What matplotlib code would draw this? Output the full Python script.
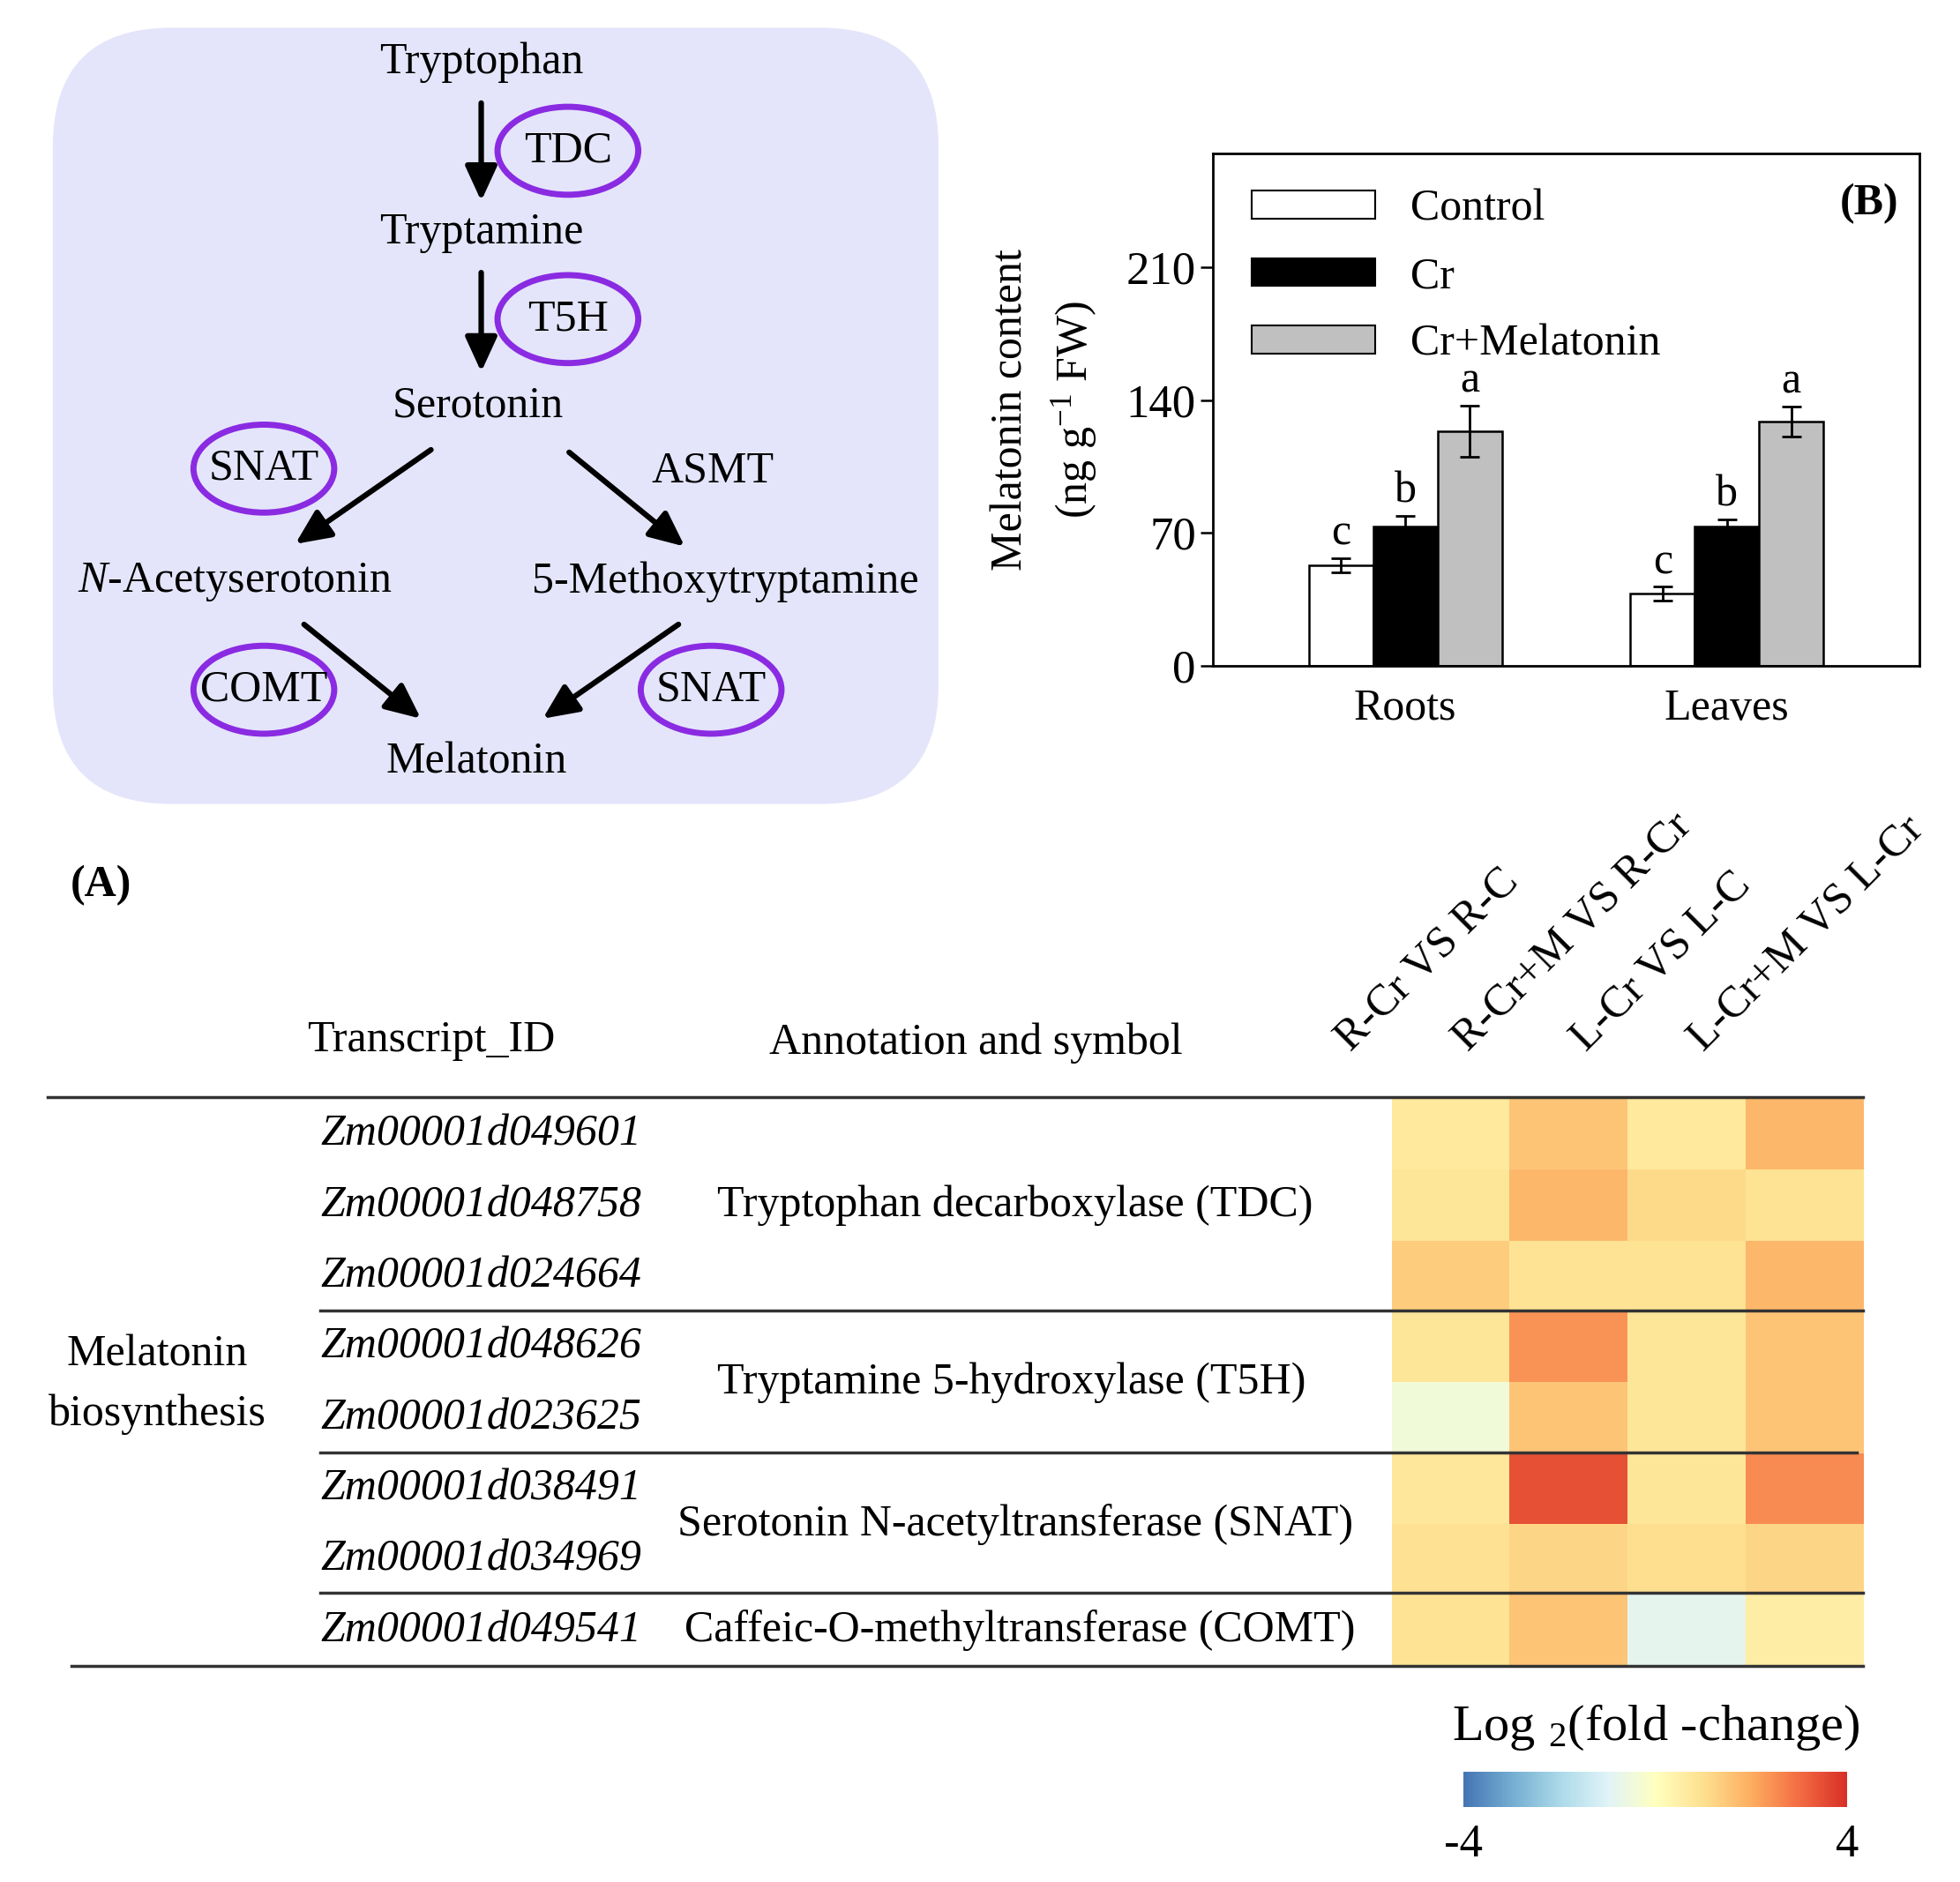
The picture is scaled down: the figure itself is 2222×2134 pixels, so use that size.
import matplotlib
matplotlib.use("Agg")
import matplotlib.pyplot as plt
import numpy as np
from matplotlib.patches import Ellipse, FancyBboxPatch, Patch
from matplotlib.colors import LinearSegmentedColormap, Normalize
from matplotlib.cm import ScalarMappable

plt.rcParams['font.family'] = ['Liberation Serif', 'DejaVu Serif']
plt.rcParams['mathtext.fontset'] = 'custom'
plt.rcParams['mathtext.rm'] = 'Liberation Serif'
plt.rcParams['mathtext.it'] = 'Liberation Serif:italic'
plt.rcParams['mathtext.bf'] = 'Liberation Serif:bold'

# bar chart data (B)
tissues = ['Roots', 'Leaves']
treatments = ['Control', 'Cr', 'Cr+Melatonin']
control = [53, 38]
control_err = [3.8, 3.6]
cr = [73.5, 73.5]
cr_err = [5.6, 3.5]
cr_mel = [123.5, 128.7]
cr_mel_err = [13.5, 8]
letters_control = ['c', 'c']
letters_cr = ['b', 'b']
letters_crmel = ['a', 'a']

# heatmap data (A)
comparisons = ['R-Cr VS R-C', 'R-Cr+M VS R-Cr', 'L-Cr VS L-C', 'L-Cr+M VS L-Cr']
transcripts = ['Zm00001d049601', 'Zm00001d048758', 'Zm00001d024664',
               'Zm00001d048626', 'Zm00001d023625', 'Zm00001d038491',
               'Zm00001d034969', 'Zm00001d049541']
annotations = ['Tryptophan decarboxylase (TDC)', 'Tryptamine 5-hydroxylase (T5H)',
               'Serotonin N-acetyltransferase (SNAT)', 'Caffeic-O-methyltransferase (COMT)']
group_sizes = [3, 2, 2, 1]
log2fc = [
    [0.7, 1.55, 0.7, 1.8],
    [0.8, 1.8, 1.1, 0.9],
    [1.4, 0.9, 0.9, 1.8],
    [0.8, 2.4, 0.8, 1.55],
    [-0.45, 1.55, 0.8, 1.55],
    [0.75, 3.45, 0.8, 2.5],
    [0.95, 1.2, 1.0, 1.2],
    [0.9, 1.55, -0.82, 0.55],
]

fs = 36
W, H = 1560, 1498  # layout units

fig = plt.figure(figsize=(22.22, 21.34), dpi=100)


def frac(x0, y0, x1, y1):
    return [x0 / W, 1 - y1 / H, (x1 - x0) / W, (y1 - y0) / H]


# ---- (B) bar chart ----
ax = fig.add_axes(frac(965, 122, 1528, 530))
x = np.arange(len(tissues))
w = 0.2
ekw = dict(lw=2, capsize=8, capthick=2)
ax.bar(x - w, control, w, yerr=control_err, color='white', edgecolor='black', lw=1.8, error_kw=ekw)
ax.bar(x, cr, w, yerr=cr_err, color='black', edgecolor='black', lw=1.8, error_kw=ekw)
ax.bar(x + w, cr_mel, w, yerr=cr_mel_err, color='#c0c0c0', edgecolor='black', lw=1.8, error_kw=ekw)
for i in range(len(tissues)):
    ax.text(x[i] - w, control[i] + control_err[i] + 2, letters_control[i], ha='center', va='bottom', fontsize=fs)
    ax.text(x[i], cr[i] + cr_err[i] + 2, letters_cr[i], ha='center', va='bottom', fontsize=fs)
    ax.text(x[i] + w, cr_mel[i] + cr_mel_err[i] + 2, letters_crmel[i], ha='center', va='bottom', fontsize=fs)
ax.set_xlim(-0.6, 1.6)
ax.set_ylim(0, 270)
ax.set_yticks([0, 70, 140, 210])
ax.set_xticks(x)
ax.set_xticklabels(tissues)
ax.tick_params(axis='y', labelsize=fs + 2, length=10, width=1.8, direction='out')
ax.tick_params(axis='x', labelsize=fs, length=0, pad=18)
for s in ax.spines.values():
    s.set_linewidth(2)
ax.set_ylabel('Melatonin content\n(ng g$^{-1}$ FW)', fontsize=fs, linespacing=1.5)
ax.yaxis.set_label_coords(-0.16, 0.5)
handles = [Patch(facecolor='white', edgecolor='black', lw=1.5),
           Patch(facecolor='black', edgecolor='black', lw=1.5),
           Patch(facecolor='#c0c0c0', edgecolor='black', lw=1.5)]
ax.legend(handles, treatments, loc='upper left', bbox_to_anchor=(0.03, 0.965), frameon=False,
          fontsize=fs, handlelength=2.8, handleheight=0.6, labelspacing=0.6, handletextpad=0.8,
          borderaxespad=0)
ax.text(0.929, 0.902, '(B)', transform=ax.transAxes, ha='center', va='center',
        fontsize=fs, fontweight='bold')

# ---- heatmap ----
cmap = LinearSegmentedColormap.from_list(
    'fc', ['#4575b4', '#74add1', '#abd9e9', '#e0f3f8', '#ffffbf',
           '#fee090', '#fdae61', '#f46d43', '#d73027'])
hax = fig.add_axes(frac(1108, 875, 1483, 1326))
hax.imshow(np.array(log2fc), cmap=cmap, vmin=-4, vmax=4, aspect='auto', interpolation='nearest')
hax.axis('off')

cax = fig.add_axes(frac(1165, 1410, 1470, 1438))
cb = fig.colorbar(ScalarMappable(norm=Normalize(-4, 4), cmap=cmap), cax=cax,
                  orientation='horizontal', ticks=[-4, 4])
cb.outline.set_visible(False)
cb.ax.set_xticklabels(['-4', '4'])
cb.ax.tick_params(length=0, labelsize=fs + 2, pad=14)

# ---- overlay for pathway and table text ----
ov = fig.add_axes([0, 0, 1, 1])
ov.set_xlim(0, W)
ov.set_ylim(H, 0)
ov.axis('off')

ov.add_patch(FancyBboxPatch((42, 22), 705, 618, boxstyle='round,pad=0,rounding_size=95',
                            facecolor='#e4e5fa', edgecolor='none', zorder=0))

compounds = [('Tryptophan', 383, 50), ('Tryptamine', 383, 185), ('Serotonin', 380, 323),
             ('$\\mathit{N}$-Acetyserotonin', 187, 463), ('5-Methoxytryptamine', 577, 463),
             ('Melatonin', 379, 607), ('ASMT', 567, 375)]
for t, cx, cy in compounds:
    ov.text(cx, cy, t, ha='center', va='center', fontsize=fs)

enzymes = [('TDC', 452, 120), ('T5H', 452, 254), ('SNAT', 210, 373),
           ('COMT', 210, 549), ('SNAT', 566, 549)]
for t, cx, cy in enzymes:
    ov.add_patch(Ellipse((cx, cy), 112, 70, facecolor='none', edgecolor='#8a2be2', lw=5))
    ov.text(cx, cy, t, ha='center', va='center', fontsize=fs)

arrows = [((383, 82), (383, 160)), ((383, 217), (383, 296)),
          ((343, 358), (235, 433)), ((453, 360), (545, 435)),
          ((242, 497), (335, 572)), ((540, 497), (432, 572))]
for a, b in arrows:
    ov.annotate('', xy=b, xytext=a,
                arrowprops=dict(arrowstyle='-|>,head_length=1.2,head_width=0.55', lw=4.5,
                                color='black', mutation_scale=20, shrinkA=0, shrinkB=0))

ov.text(80, 705, '(A)', ha='center', va='center', fontsize=fs, fontweight='bold')
ov.text(343, 828, 'Transcript_ID', ha='center', va='center', fontsize=fs)
ov.text(777, 830, 'Annotation and symbol', ha='center', va='center', fontsize=fs)

col_w = (1483 - 1108) / len(comparisons)
for j, c in enumerate(comparisons):
    cx = 1108 + col_w * (j + 0.5)
    ov.text(cx - 80, 838, c, rotation=45, rotation_mode='anchor', ha='left', va='baseline',
            fontsize=fs)

row_h = (1326 - 875) / len(transcripts)
for i, t in enumerate(transcripts):
    ov.text(383, 875 + row_h * (i + 0.5), t, ha='center', va='center', fontsize=fs, style='italic')

ann_x = [808, 805, 808, 812]
start = 0
for k, (a, n) in enumerate(zip(annotations, group_sizes)):
    cy = 875 + row_h * (start + n / 2)
    ov.text(ann_x[k], cy, a, ha='center', va='center', fontsize=fs)
    start += n

ov.text(125, 1102, 'Melatonin\nbiosynthesis', ha='center', va='center', fontsize=fs, linespacing=1.6)

lc = '#333333'
ov.plot([38, 1483], [873, 873], color=lc, lw=2.5)
ov.plot([57, 1483], [1326, 1326], color=lc, lw=2.5)
ov.plot([255, 1483], [1043, 1043], color=lc, lw=2.5)
ov.plot([255, 1478], [1156, 1156], color=lc, lw=2.5)
ov.plot([255, 1483], [1268, 1268], color=lc, lw=2.5)

ov.text(1318, 1375, 'Log $_2$(fold -change)', ha='center', va='center', fontsize=fs + 6)

fig.savefig('out.png', dpi=100, facecolor='white')
